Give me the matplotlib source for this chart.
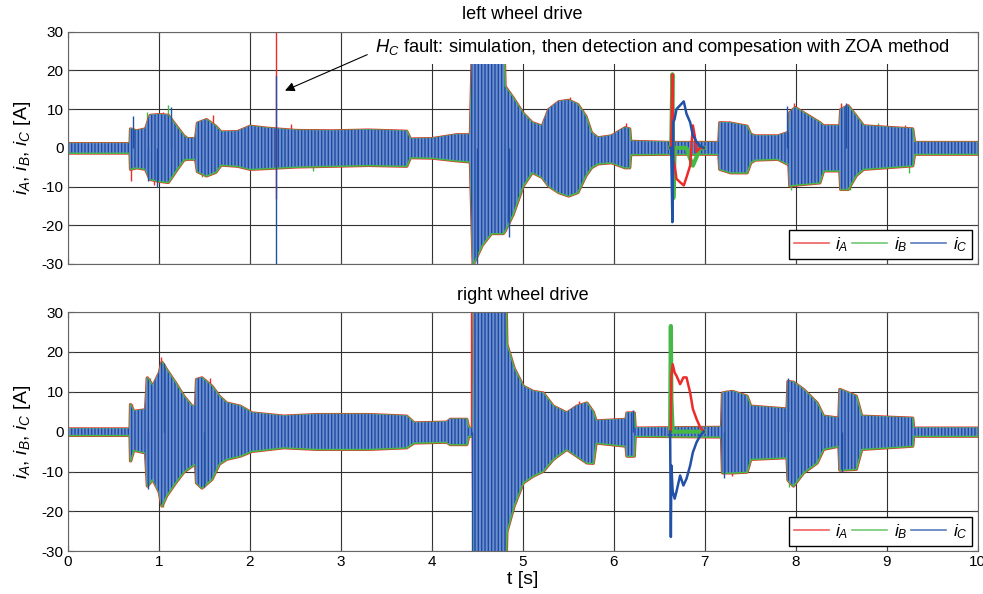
from typing import *
import matplotlib
matplotlib.use('Agg')
import matplotlib.pyplot as plt

plt.rcParams['font.family'] = ['Liberation Sans', 'DejaVu Sans']
plt.rcParams['mathtext.fontset'] = 'custom'
plt.rcParams['mathtext.it'] = 'Liberation Sans:italic'
plt.rcParams['mathtext.rm'] = 'Liberation Sans'
plt.rcParams['axes.unicode_minus'] = False
plt.rcParams['hatch.color'] = '#1d4aa2'
plt.rcParams['hatch.linewidth'] = 1.0

# envelope of the phase currents (t [s], upper, lower [A])
t_left = [0, 0.68, 0.685, 0.75, 0.85, 0.9, 1.0, 1.1, 1.18, 1.27, 1.31, 1.4, 1.42,
          1.52, 1.62, 1.68, 1.86, 2.0, 2.18, 2.5, 2.9, 3.3, 3.72, 3.76, 4.0, 4.27,
          4.42, 4.45, 4.55, 4.65, 4.78, 4.8, 4.89, 5.0, 5.1, 5.21, 5.28, 5.39, 5.5,
          5.6, 5.69, 5.75, 5.82, 5.97, 6.12, 6.17, 6.18, 6.62, 7.0, 7.15, 7.16,
          7.28, 7.46, 7.5, 7.55, 7.8, 7.9, 7.92, 7.93, 7.99, 8.26, 8.3, 8.48, 8.49,
          8.57, 8.66, 8.74, 9.28, 9.3, 10]
hi_left = [1.2, 1.2, 5, 4.5, 5, 8.5, 8.7, 8.5, 6, 3.2, 2.5, 2.5, 6.5,
           7.4, 5.7, 4.2, 4.3, 5.7, 5.2, 4.6, 4.5, 4.7, 4.4, 2.4, 2.5, 3.5,
           3.5, 35, 35, 35, 35, 16, 13, 9, 6.6, 5.7, 10, 12, 12.4,
           11.3, 8.2, 4, 2.7, 3.2, 5.3, 5, 1.8, 1.5, 1.5, 1.5, 6.6,
           6.5, 5.7, 3.6, 3.2, 3.2, 4, 4, 9.2, 10.5, 6.6, 5.8, 5.8, 10,
           11, 8.3, 5.8, 5, 1.5, 1.5]
lo_left = [-1.2, -1.2, -5.4, -5, -5.4, -8, -8.5, -8.8, -6, -3, -2.8, -2.8, -6,
           -7.1, -6.2, -4.3, -4.6, -5.4, -5.2, -4.8, -4.6, -4.4, -4.6, -2.4, -2.5, -3.2,
           -3.5, -30, -25, -22, -22, -21.4, -17, -9.7, -6.2, -7.5, -9.7, -11.4, -12.3,
           -11.4, -7, -5, -4, -3.7, -5, -5, -1.6, -1.5, -1.5, -1.5, -5.4,
           -6.3, -6.3, -3.7, -3, -2.8, -4, -4, -9.7, -9.5, -8.9, -5.8, -5.8, -10.6,
           -10.6, -7, -5.4, -4.5, -1.5, -1.5]

t_right = [0, 0.68, 0.685, 0.72, 0.85, 0.87, 0.93, 1.0, 1.03, 1.08, 1.18, 1.27, 1.36,
           1.4, 1.41, 1.47, 1.58, 1.66, 1.74, 1.89, 2.02, 2.37, 2.74, 3.3, 3.72, 3.8,
           4.16, 4.2, 4.38, 4.4, 4.45, 4.46, 4.81, 4.82, 4.9, 5.0, 5.11, 5.22, 5.33,
           5.48, 5.59, 5.7, 5.77, 5.8, 6.13, 6.14, 6.22, 6.23, 7.18, 7.19, 7.3, 7.46,
           7.5, 7.9, 7.91, 7.97, 8.08, 8.23, 8.3, 8.47, 8.48, 8.66, 8.72, 9.28, 9.29, 10]
hi_right = [0.8, 0.8, 6.9, 5.2, 5.6, 13.6, 11.5, 14.8, 17.5, 15.7, 12.3, 9, 6.5,
            6.5, 13.2, 13.6, 11.5, 9, 7.3, 6.5, 4.8, 4, 4.4, 4.4, 4, 2.3,
            2.5, 3.2, 3.2, 1, 1, 35, 35, 22, 16, 11.5, 10.2, 9.8, 6.5,
            4.8, 6.5, 7.3, 5, 2.8, 3.2, 4.8, 4.8, 1, 1.2, 9.8, 10.2, 9,
            6.5, 5.8, 12.7, 12.5, 10.7, 7.3, 4, 3.5, 10.7, 9, 4, 3.5, 1, 1]
lo_right = [-0.8, -0.8, -7.2, -4.5, -5.2, -13.5, -11.8, -15, -18.5, -16, -12.7, -10, -8.5,
            -8, -12.7, -14, -11.8, -8, -6.8, -6, -4.8, -3.9, -4.3, -4.3, -3.9, -2.7,
            -2.5, -3.1, -3.1, -1, -1, -35, -35, -25, -18.5, -12.7, -11, -9.8, -6.8,
            -4.3, -6, -7.7, -7.8, -2.7, -3.5, -6, -6, -1, -1.2, -10.2, -10.2, -10,
            -6.8, -6.4, -12, -13.5, -10.2, -7.7, -4.3, -3.5, -9.5, -9.3, -4.3, -3.5, -1, -1]

# single peaks that stick out of the envelope (t, value) per phase
spk_a_left = [(0.69, -8.5), (0.95, -9.5), (1.05, 9.2), (1.6, 8.6), (2.45, 6.2), (4.43, 35),
              (5.52, 13.2), (6.13, 6.5), (7.27, 7), (7.98, 11.5), (8.5, 11.5), (9.2, 6)]
spk_b_left = [(0.87, 9.2), (1.1, 11), (1.48, -7.6), (2.7, -6), (4.47, -30), (7.22, 6.8),
              (7.95, -11), (8.6, -11), (8.9, 6.3), (9.25, -6.5)]
spk_c_left = [(0.72, 8.3), (0.88, -8.6), (0.98, -10.2), (1.13, 10.5), (4.5, -30), (4.85, -23),
              (7.9, 10.8), (8.55, 11.5)]
spk_a_right = [(0.71, 7), (0.86, 13.6), (1.03, 18.6), (1.56, 13.5), (4.43, 35), (4.72, -35),
               (5.62, 7.8), (8.48, 11), (7.3, -11), (6.2, 5.2)]
spk_b_right = [(0.7, -7.4), (0.9, 13.5), (1.05, -19), (1.5, -12.8), (7.23, 10.5),
               (7.93, -14), (8.5, 9.5), (4.6, -35)]
spk_c_right = [(0.88, -14.5), (1.06, 17.3), (1.5, -14), (4.44, -35), (7.21, -11.5),
               (7.92, 13.5), (8.51, -10.2), (6.21, 5.5)]

# fault transient (6.6 s .. 7 s), one line per phase
tr_t_left = [6.62, 6.632, 6.645, 6.655, 6.67, 6.69, 6.73, 6.77, 6.80, 6.84, 6.87, 6.89, 6.91, 6.95, 6.99]
tr_a_left = [0, 0, 19, -3, -4.6, -8, -8.9, -9.7, -7.6, -4.6, 5.8, 3.2, -1, 0, 0]
tr_b_left = [0, 0, 19, -13, 0, 0, 0, 0, 0, -2.8, -4.6, -3.5, -2.4, 0, 0]
tr_c_left = [0, 0, -19.2, 6.6, 7.5, 10, 11, 12, 8.8, 6.6, 3.2, 2.5, 1.5, 0.5, 0]

tr_t_right = [6.62, 6.628, 6.634, 6.648, 6.67, 6.69, 6.73, 6.766, 6.80, 6.84, 6.87, 6.91, 6.95, 6.99]
tr_a_right = [0, 0, 14, 16.9, 14.8, 14.0, 11.9, 13.6, 13.6, 9.8, 5.7, 3.2, 1.1, 0]
tr_b_right = [0, 26.5, 8.2, 0, 0, 0, 0, 0, 0, 0, 0, 0, 0, 0]
tr_c_right = [0, -26.4, -8.5, -15, -16.8, -15, -11, -13.5, -11.8, -8.5, -5.2, -2.7, -1, 0]

# simulated H_C fault spike in the left drive
fault_t: float = 2.285
fault_a: Tuple[float, float] = (-13, 30)
fault_c: Tuple[float, float] = (-30, 18.5)

x_ticks = [0, 1, 2, 3, 4, 5, 6, 7, 8, 9, 10]
y_ticks = [-30, -20, -10, 0, 10, 20, 30]
phase_labels = ['$i_A$', '$i_B$', '$i_C$']
titles = ['left wheel drive', 'right wheel drive']

col_a, col_b, col_c = '#ec2b2b', '#45b845', '#2251a8'


def draw_band(ax, t, hi, lo):
    ax.fill_between(t, lo, hi, facecolor=col_a, edgecolor=col_a, linewidth=2.4, zorder=2)
    ax.fill_between(t, lo, hi, facecolor=col_b, edgecolor=col_b, linewidth=1.5, zorder=2.1)
    ax.fill_between(t, lo, hi, facecolor='#6c8fd0', edgecolor='#1d4aa2', hatch='|||||',
                    linewidth=0, zorder=2.2)


def draw_spikes(ax, spikes: List[Tuple[float, float]], color, z):
    ts = [s[0] for s in spikes]
    vs = [s[1] for s in spikes]
    ax.vlines(ts, 0, vs, color=color, lw=1.0, zorder=z)


def draw_transient(ax, t, a, b, c):
    ax.plot(t, b, color=col_b, lw=3.0, zorder=3, label=phase_labels[1])
    ax.plot(t, a, color=col_a, lw=1.8, zorder=3.1, label=phase_labels[0])
    ax.plot(t, c, color=col_c, lw=1.8, zorder=3.2, label=phase_labels[2])


def style_axes(ax, title, show_x):
    ax.set_xlim(0, 10)
    ax.set_ylim(-30, 30)
    ax.set_xticks(x_ticks)
    ax.set_yticks(y_ticks)
    ax.grid(True, color='#303030', linewidth=0.8)
    ax.set_axisbelow(True)
    ax.tick_params(direction='in', top=True, right=True, length=4, labelsize=11,
                   pad=3, color='#444444')
    if not show_x:
        ax.tick_params(labelbottom=False)
    for s in ax.spines.values():
        s.set_color('#666666')
        s.set_linewidth(0.8)
        s.set_zorder(7)
    ax.set_title(title, fontsize=13, pad=9)
    ax.set_ylabel('$i_A$, $i_B$, $i_C$ [A]', fontsize=14, labelpad=6)
    handles, labels = ax.get_legend_handles_labels()
    order = [labels.index(l) for l in phase_labels]
    leg = ax.legend([handles[i] for i in order], phase_labels, loc='lower right', ncol=3,
                    fontsize=12.5, fancybox=False, edgecolor='black', framealpha=1,
                    handlelength=2.0, handletextpad=0.4, columnspacing=0.2,
                    borderpad=0.3, borderaxespad=0.3)
    leg.set_zorder(8)
    for line in leg.get_lines():
        line.set_linewidth(1.2)
        line.set_alpha(0.75)


fig = plt.figure(figsize=(9.83, 5.94), dpi=100)
ax1 = fig.add_axes([0.0689, 0.5556, 0.9257, 0.391])
ax2 = fig.add_axes([0.0689, 0.0719, 0.9257, 0.4028])

draw_spikes(ax1, spk_a_left, col_a, 1.9)
draw_spikes(ax1, spk_b_left, col_b, 1.95)
draw_band(ax1, t_left, hi_left, lo_left)
draw_spikes(ax1, spk_c_left, col_c, 2.3)
draw_transient(ax1, tr_t_left, tr_a_left, tr_b_left, tr_c_left)
ax1.plot([fault_t, fault_t], fault_a, color=col_a, lw=1.0, zorder=3)
ax1.plot([fault_t, fault_t], fault_c, color=col_c, lw=1.0, zorder=3.1)
style_axes(ax1, titles[0], False)
ax1.annotate('$H_C$ fault: simulation, then detection and compesation with ZOA method',
             xy=(2.36, 14.5), xytext=(3.38, 25.8), textcoords='data', fontsize=13.2,
             ha='left', va='center', zorder=6,
             bbox=dict(boxstyle='square,pad=0.3', fc='white', ec='none'),
             arrowprops=dict(arrowstyle='-|>', color='black', lw=0.8, mutation_scale=14,
                             relpos=(0, 0.35)))

draw_spikes(ax2, spk_a_right, col_a, 1.9)
draw_spikes(ax2, spk_b_right, col_b, 1.95)
draw_band(ax2, t_right, hi_right, lo_right)
draw_spikes(ax2, spk_c_right, col_c, 2.3)
draw_transient(ax2, tr_t_right, tr_a_right, tr_b_right, tr_c_right)
style_axes(ax2, titles[1], True)
ax2.set_xlabel('t [s]', fontsize=14, labelpad=1)

plt.savefig('out.png', dpi=100)
